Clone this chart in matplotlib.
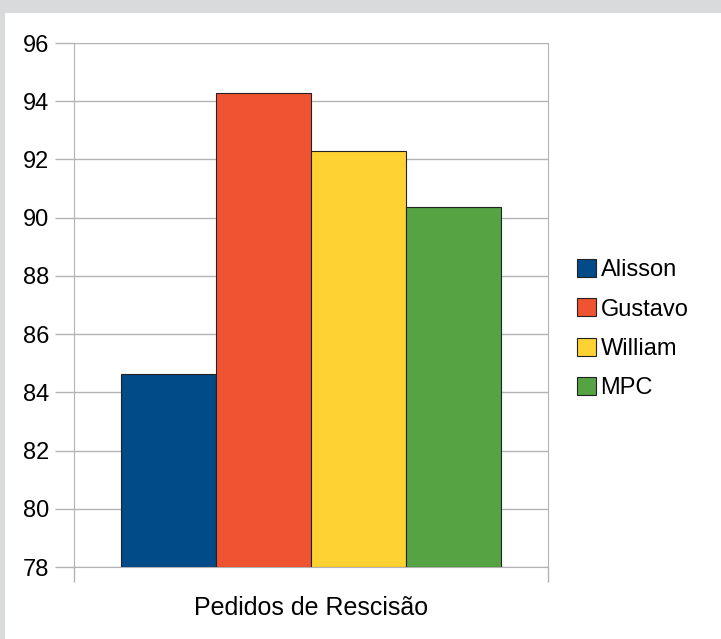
import matplotlib.pyplot as plt
import matplotlib.patches as mpatches

# dados
nomes = ["Alisson", "Gustavo", "William", "MPC"]
valores = [84.63, 94.28, 92.29, 90.37]
cores = ["#004b88", "#f05331", "#fed233", "#56a344"]
categoria = "Pedidos de Rescisão"
yticks = [78, 80, 82, 84, 86, 88, 90, 92, 94, 96]

plt.rcParams['font.family'] = ['Liberation Sans', 'DejaVu Sans']

W, H = 721, 639
fig = plt.figure(figsize=(W / 100, H / 100), dpi=100)
fig.patch.set_facecolor("#d9dadb")
# painel branco
fig.patches.append(mpatches.Rectangle((5 / W, 0), 1, 1 - 13 / H, transform=fig.transFigure,
                                      facecolor="white", edgecolor="none", zorder=-10))

ax = fig.add_axes([74 / W, 1 - 567 / H, (548 - 74) / W, (567 - 43) / H])
ax.set_facecolor("white")

larg = 0.2
for i, (n, v, c) in enumerate(zip(nomes, valores, cores)):
    x = -0.4 + larg * i
    ax.bar(x, v - 78, bottom=78, width=larg, align="edge", color=c,
           edgecolor="#222222", linewidth=0.8, label=n, zorder=3)

ax.set_xlim(-0.5, 0.5)
ax.set_ylim(78, 96)
ax.set_yticks(yticks)
ax.set_yticklabels([str(t) for t in yticks], fontsize=17)
ax.grid(axis="y", color="#b3b3b3", linewidth=1, zorder=0)
ax.set_xticks([-0.5, 0.5])
ax.set_xticklabels(["", ""])
ax.tick_params(axis="y", length=14, color="#b3b3b3", width=1, pad=4)
ax.tick_params(axis="x", length=11, color="#b3b3b3", width=1)
for s in ax.spines.values():
    s.set_color("#b3b3b3")
ax.spines["top"].set_visible(False)

ax.text(0.5, -0.078, categoria, transform=ax.transAxes, ha="center", va="center", fontsize=18)

leg = fig.legend(*ax.get_legend_handles_labels(), loc="center left",
                 bbox_to_anchor=(577 / W, 1 - 329 / H), frameon=False, fontsize=17,
                 borderaxespad=0, borderpad=0, handlelength=0.8, handleheight=0.8,
                 handletextpad=0.2, labelspacing=0.72)

fig.savefig("out.png", dpi=100, facecolor=fig.get_facecolor())
